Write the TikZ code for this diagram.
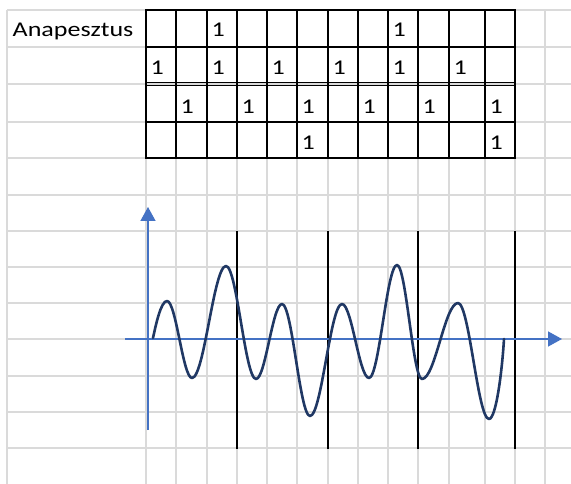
\documentclass[tikz,border=0pt]{standalone}
\usepackage{fontspec}
\usepackage{graphicx}
\setmainfont{Carlito}
\usetikzlibrary{arrows.meta}
\definecolor{gridgray}{RGB}{218,218,218}
\definecolor{axisblue}{RGB}{68,114,196}
\definecolor{wavenavy}{RGB}{32,56,100}
\newcommand{\widecell}[1]{\scalebox{1.24}[1]{#1}}
\tikzset{
  gridline/.style={draw=gridgray, line width=1.6pt},
  tableline/.style={draw=black, line width=2.2pt},
  thinrule/.style={draw=black, line width=1.3pt},
  barline/.style={draw=black, line width=1.8pt},
  axisline/.style={draw=axisblue, line width=1.4pt, -{Triangle[width=15pt,length=14pt]}},
  wave/.style={draw=wavenavy, line width=2.6pt, line cap=round, line join=round},
  celltext/.style={anchor=base west, inner sep=0pt, font=\fontsize{21}{25}\selectfont},
}
\begin{document}
\begin{tikzpicture}[x=1pt,y=-1pt]
\useasboundingbox (0,0) rectangle (571,484);
\fill[white] (0,0) rectangle (571,484);
% spreadsheet gridlines
\foreach \x in {7,146,176,207,237,267,297,328,358,388,418,449,485,515,545}
  \draw[gridline] (\x,10) -- (\x,484);
\foreach \y in {10,47,84,122,158,195,231,267,303,339,376,412,448}
  \draw[gridline] (7,\y) -- (571,\y);
% table borders
\foreach \x in {146,176,207,237,267,297,328,358,388,418,449,485,515}
  \draw[tableline] (\x,10) -- (\x,158);
\foreach \y in {10,47,122,158}
  \draw[tableline] (145,\y) -- (516,\y);
\draw[thinrule] (145,82.3) -- (516,82.3);
\draw[thinrule] (145,85.6) -- (516,85.6);
% title
\node[celltext] (title) at (12.5,36.7) {\widecell{Anapesztus}};
% row 1
\node[celltext] (r1c3) at (211.5,36.7) {\widecell{1}};
\node[celltext] (r1c9) at (392.5,36.7) {\widecell{1}};
% row 2
\node[celltext] (r2c1) at (150.5,75) {\widecell{1}};
\node[celltext] (r2c3) at (211.5,75) {\widecell{1}};
\node[celltext] (r2c5) at (271.5,75) {\widecell{1}};
\node[celltext] (r2c7) at (332.5,75) {\widecell{1}};
\node[celltext] (r2c9) at (392.5,75) {\widecell{1}};
\node[celltext] (r2c11) at (453.5,75) {\widecell{1}};
% row 3
\node[celltext] (r3c2) at (180.5,113.3) {\widecell{1}};
\node[celltext] (r3c4) at (241.5,113.3) {\widecell{1}};
\node[celltext] (r3c6) at (301.5,113.3) {\widecell{1}};
\node[celltext] (r3c8) at (362.5,113.3) {\widecell{1}};
\node[celltext] (r3c10) at (422.5,113.3) {\widecell{1}};
\node[celltext] (r3c12) at (489.5,113.3) {\widecell{1}};
% row 4
\node[celltext] (r4c6) at (301.5,150) {\widecell{1}};
\node[celltext] (r4c12) at (489.5,150) {\widecell{1}};
% chart separators
\foreach \x in {237,328,418,515}
  \draw[barline] (\x,231) -- (\x,448.5);
% axes
\coordinate (xstart) at (125,339);
\coordinate (xtip) at (562,339);
\coordinate (ystart) at (148,430);
\coordinate (ytip) at (148,207);
\draw[axisline] (xstart) -- (xtip);
\draw[axisline] (ystart) -- (ytip);
% wave
\draw[wave] (153,338)
  .. controls (156,324) and (161,301) .. (167,301)
  .. controls (176.1,301) and (182.9,378) .. (192,378)
  .. controls (204.3,378) and (213.7,266) .. (226,266)
  .. controls (236.9,266) and (245.1,379) .. (256,379)
  .. controls (265.4,379) and (272.6,304) .. (282,304)
  .. controls (292.2,304) and (299.8,416) .. (310,416)
  .. controls (321.6,416) and (330.4,304) .. (342,304)
  .. controls (351.8,304) and (359.2,378) .. (369,378)
  .. controls (379.2,378) and (386.8,265) .. (397,265)
  .. controls (406.1,265) and (412.9,379) .. (422,379)
  .. controls (435.1,379) and (444.9,303) .. (458,303)
  .. controls (469.3,303) and (477.7,419) .. (489,419)
  .. controls (496,419) and (502,372) .. (504,339);
\end{tikzpicture}
\end{document}
